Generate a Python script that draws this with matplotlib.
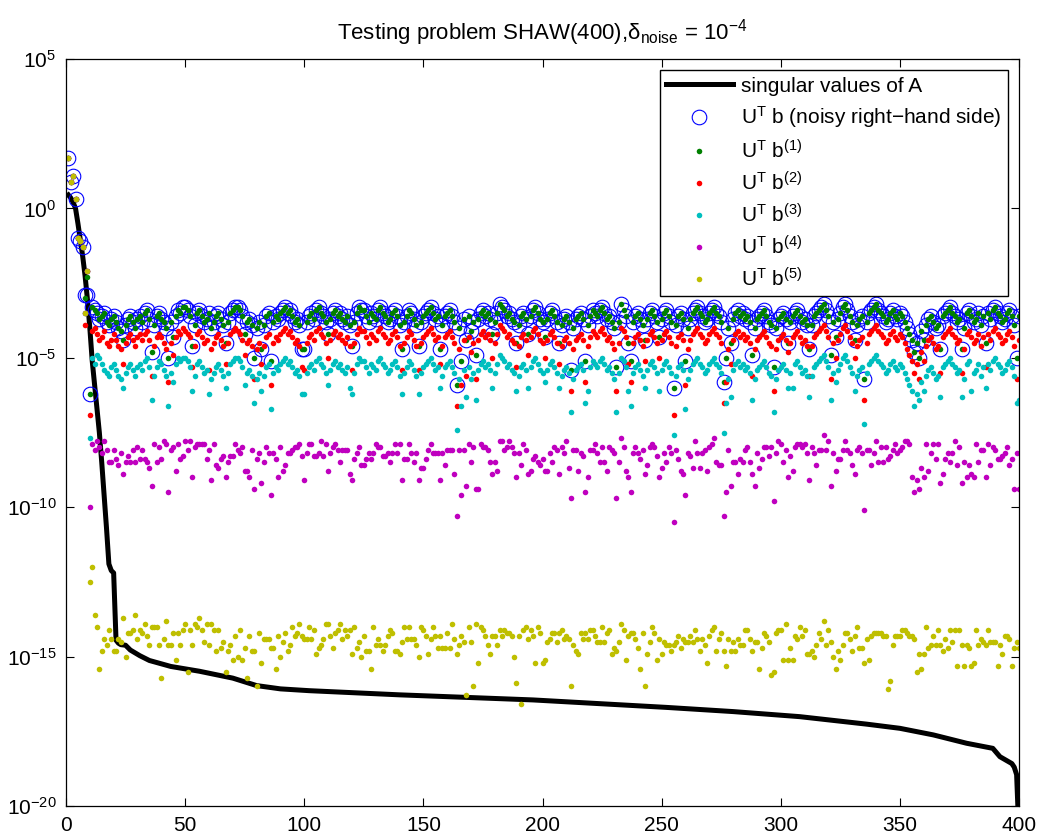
import numpy as np
import matplotlib.pyplot as plt
from matplotlib.ticker import NullLocator

plt.rcParams['font.family'] = ['Liberation Sans', 'DejaVu Sans']
plt.rcParams['mathtext.fontset'] = 'custom'
plt.rcParams['mathtext.rm'] = 'Liberation Sans'
plt.rcParams['mathtext.it'] = 'Liberation Sans:italic'
plt.rcParams['mathtext.bf'] = 'Liberation Sans:bold'
plt.rcParams['mathtext.sf'] = 'Liberation Sans'

# singular values of A: index and log10 value
sv_idx = [1, 2, 3, 4, 5, 6, 7, 8, 9, 10, 11, 12, 13, 14, 15, 16, 17, 18, 19, 20,
          21, 22, 23, 25, 27, 31, 35, 44, 56, 70, 80, 90, 102, 140, 196, 252, 280,
          308, 336, 350, 364, 378, 389, 392, 397, 398, 399, 400]
sv_log = [0.45, 0.35, 0.2, 0.0, -0.5, -1.05, -1.6, -2.25, -3.05, -4.0,
          -5.1, -5.9, -6.7, -7.5, -8.5, -9.6, -10.7, -11.9, -12.12, -12.2,
          -14.45, -14.55, -14.6, -14.62, -14.78, -14.97, -15.13, -15.33, -15.49, -15.72,
          -15.97, -16.08, -16.14, -16.28, -16.45, -16.70, -16.84,
          -17.01, -17.26, -17.4, -17.62, -17.9, -18.07, -18.35, -18.58, -18.7, -18.95, -21.0]

# coefficients U^T b, stored as 10*log10 (i = 1..400)
utb = [17, 9, 11, 3, -10, -11, -13, -29, -29, -62, -33,
       -34, -35, -37, -36, -35, -38, -39, -37, -36, -38, -40, -41, -44, -39, -37, -36, -38, -40, -37, -36,
       -38, -35, -34, -37, -48, -39, -36, -35, -37, -38, -40, -50, -38, -43, -36, -34, -35, -33, -33, -34,
       -36, -46, -39, -35, -34, -36, -38, -37, -35, -40, -38, -36, -35, -37, -39, -45, -38, -35, -34, -33,
       -33, -34, -36, -42, -38, -37, -39, -50, -40, -38, -47, -39, -36, -35, -51, -38, -36, -37, -35, -34,
       -33, -35, -34, -36, -38, -37, -39, -47, -47, -38, -36, -35, -37, -34, -33, -35, -36, -38, -42, -37,
       -35, -34, -36, -35, -37, -38, -36, -39, -46, -38, -35, -33, -34, -34, -36, -38, -35, -36, -37, -34,
       -33, -35, -36, -38, -37, -35, -34, -36, -39, -47, -38, -36, -34, -35, -37, -39, -46, -38, -36, -35,
       -34, -33, -35, -37, -36, -47, -39, -36, -35, -34, -36, -38, -59, -40, -51, -37, -44, -36, -41, -38,
       -49, -37, -35, -34, -36, -35, -37, -42, -38, -35, -32, -33, -34, -36, -35, -37, -38, -45, -39, -36,
       -35, -37, -42, -36, -34, -33, -35, -37, -38, -43, -37, -35, -34, -36, -38, -45, -39, -37, -36, -38,
       -54, -40, -37, -36, -35, -37, -51, -39, -36, -34, -35, -36, -34, -33, -35, -37, -36, -38, -40, -53,
       -38, -32, -34, -36, -45, -51, -38, -36, -35, -37, -39, -44, -37, -35, -34, -36, -38, -43, -37, -35,
       -34, -36, -38, -60, -39, -36, -35, -37, -51, -40, -37, -35, -34, -33, -35, -36, -38, -37, -35, -34,
       -33, -35, -36, -38, -58, -50, -40, -45, -37, -35, -34, -36, -35, -37, -36, -38, -49, -40, -37, -36,
       -35, -34, -36, -38, -39, -53, -40, -37, -36, -35, -37, -45, -38, -36, -35, -34, -36, -38, -37, -39,
       -47, -39, -36, -35, -34, -33, -32, -34, -36, -49, -38, -43, -37, -35, -33, -32, -34, -36, -38, -44,
       -39, -37, -36, -57, -38, -35, -34, -33, -32, -34, -35, -36, -38, -37, -35, -34, -36, -37, -35, -36,
       -38, -40, -42, -44, -48, -45, -50, -41, -44, -39, -37, -36, -38, -40, -39, -47, -36, -35, -34, -33,
       -35, -36, -38, -37, -47, -40, -35, -34, -36, -38, -37, -35, -39, -36, -45, -35, -37, -34, -33, -35,
       -36, -38, -37, -35, -34, -36, -39, -50, -36]

utb1 = utb[:7] + [-30, -23] + utb[9:]

utb2 = [17, 9, 11, 3, -10, -11, -13, -39, -21, -69, -41,
        -40, -42, -44, -43, -41, -45, -46, -44, -42, -44, -46, -47, -52, -45, -43, -42, -44, -46, -43, -42,
        -44, -42, -41, -44, -56, -46, -43, -42, -43, -45, -47, -58, -45, -49, -43, -41, -42, -40, -41, -42,
        -43, -53, -46, -42, -41, -43, -45, -44, -54, -47, -45, -43, -42, -44, -46, -52, -45, -42, -41, -40,
        -41, -42, -44, -49, -45, -44, -46, -57, -47, -45, -52, -46, -43, -42, -59, -45, -43, -44, -42, -41,
        -40, -42, -41, -43, -45, -44, -46, -53, -54, -45, -43, -42, -44, -41, -40, -42, -43, -45, -50, -44,
        -42, -41, -43, -42, -44, -45, -43, -46, -54, -45, -42, -40, -41, -41, -43, -45, -42, -43, -44, -41,
        -40, -42, -43, -45, -44, -42, -41, -43, -46, -54, -45, -43, -41, -42, -44, -46, -54, -45, -43, -42,
        -41, -40, -42, -44, -43, -52, -46, -43, -42, -41, -43, -45, -66, -47, -59, -44, -56, -43, -48, -45,
        -57, -44, -42, -41, -43, -42, -44, -50, -45, -42, -39, -40, -41, -43, -42, -44, -45, -53, -46, -43,
        -42, -44, -49, -43, -41, -40, -42, -44, -45, -50, -44, -42, -41, -43, -45, -52, -46, -44, -43, -45,
        -61, -47, -44, -43, -42, -44, -58, -46, -43, -41, -42, -43, -41, -40, -42, -44, -43, -45, -47, -61,
        -45, -40, -41, -43, -52, -58, -45, -43, -42, -44, -46, -51, -44, -42, -41, -43, -45, -50, -44, -42,
        -41, -43, -45, -69, -46, -43, -42, -44, -59, -47, -44, -42, -41, -40, -42, -43, -45, -44, -42, -41,
        -40, -42, -43, -45, -65, -58, -47, -52, -44, -42, -41, -43, -42, -44, -43, -45, -56, -47, -44, -43,
        -42, -41, -43, -45, -46, -61, -47, -44, -43, -42, -44, -48, -45, -43, -42, -41, -43, -45, -44, -46,
        -56, -46, -43, -42, -41, -40, -39, -41, -43, -57, -45, -50, -44, -42, -40, -39, -41, -43, -45, -50,
        -46, -44, -43, -64, -45, -42, -41, -40, -39, -41, -42, -43, -45, -44, -42, -41, -43, -44, -42, -43,
        -45, -47, -49, -51, -55, -52, -57, -48, -51, -46, -44, -43, -45, -47, -46, -55, -43, -42, -41, -40,
        -42, -43, -45, -44, -55, -47, -42, -41, -43, -45, -44, -42, -46, -43, -53, -42, -44, -41, -40, -42,
        -43, -45, -44, -42, -41, -43, -46, -57, -44]

utb3 = [17, 9, 11, 3, -10, -11, -13, -35, -21, -77, -50,
        -52, -49, -50, -52, -54, -55, -56, -53, -52, -54, -56, -57, -60, -55, -53, -52, -54, -56, -53, -52,
        -54, -51, -50, -53, -64, -56, -53, -51, -52, -54, -56, -66, -55, -58, -52, -50, -51, -50, -50, -51,
        -53, -61, -56, -52, -51, -53, -55, -54, -62, -57, -55, -53, -52, -54, -56, -60, -55, -52, -51, -50,
        -50, -51, -53, -59, -55, -54, -56, -65, -57, -55, -61, -56, -53, -52, -67, -55, -53, -54, -52, -51,
        -50, -52, -51, -53, -55, -54, -56, -62, -62, -55, -53, -52, -54, -51, -50, -52, -53, -55, -59, -54,
        -52, -51, -53, -52, -54, -55, -53, -60, -62, -55, -52, -50, -51, -51, -53, -55, -52, -53, -54, -51,
        -50, -52, -53, -55, -54, -52, -51, -53, -56, -62, -55, -53, -51, -52, -54, -56, -62, -55, -53, -52,
        -51, -50, -52, -54, -53, -60, -56, -53, -52, -51, -53, -55, -74, -57, -66, -54, -63, -53, -57, -55,
        -64, -54, -52, -51, -53, -52, -54, -60, -55, -52, -49, -50, -51, -53, -52, -54, -55, -61, -56, -53,
        -52, -54, -60, -53, -51, -50, -52, -54, -55, -58, -54, -52, -51, -53, -55, -60, -56, -54, -53, -55,
        -68, -57, -54, -53, -52, -54, -65, -61, -53, -51, -52, -53, -51, -50, -52, -54, -53, -55, -57, -68,
        -55, -50, -51, -53, -61, -66, -55, -53, -52, -54, -56, -60, -54, -52, -51, -53, -55, -61, -54, -52,
        -51, -53, -55, -76, -56, -53, -52, -54, -67, -57, -54, -52, -51, -50, -52, -53, -55, -54, -52, -51,
        -50, -52, -53, -55, -75, -65, -57, -63, -54, -52, -51, -53, -52, -54, -53, -55, -64, -57, -54, -53,
        -52, -51, -53, -55, -56, -68, -57, -54, -53, -52, -54, -60, -55, -60, -52, -51, -53, -55, -54, -56,
        -63, -56, -53, -52, -51, -50, -49, -51, -53, -64, -55, -58, -54, -52, -50, -49, -51, -53, -55, -61,
        -56, -54, -53, -72, -55, -52, -51, -50, -49, -51, -52, -53, -55, -54, -52, -51, -53, -54, -52, -53,
        -55, -57, -59, -61, -66, -62, -64, -58, -61, -56, -54, -53, -55, -57, -56, -63, -53, -52, -51, -50,
        -52, -53, -55, -54, -63, -57, -52, -51, -61, -55, -54, -52, -56, -53, -60, -52, -54, -51, -50, -52,
        -53, -55, -54, -52, -51, -53, -56, -65, -64]

utb4 = [17, 9, 11, 3, -10, -11, -13, -35, -21,
        -100, -79, -81, -78, -80, -82, -78, -81, -85, -85, -81, -84, -86, -82, -89, -85, -83, -85, -81, -85,
        -80, -84, -81, -84, -85, -87, -93, -79, -85, -80, -84, -78, -79, -95, -81, -80, -88, -79, -84, -83,
        -78, -81, -78, -90, -80, -79, -79, -79, -79, -84, -81, -91, -79, -86, -87, -84, -83, -90, -85, -83,
        -83, -79, -81, -82, -80, -88, -88, -90, -81, -94, -84, -82, -92, -85, -80, -82, -96, -82, -84, -90,
        -80, -88, -86, -82, -82, -81, -80, -80, -79, -83, -91, -82, -79, -79, -83, -83, -82, -78, -83, -79,
        -88, -82, -80, -79, -81, -85, -81, -81, -81, -89, -91, -84, -82, -80, -86, -86, -84, -82, -84, -82,
        -79, -80, -80, -83, -83, -82, -85, -82, -79, -82, -79, -91, -84, -84, -79, -82, -85, -82, -91, -87,
        -87, -84, -81, -79, -82, -82, -82, -91, -82, -86, -81, -81, -81, -89, -103, -81, -96, -81, -93, -79,
        -85, -80, -94, -94, -79, -80, -80, -81, -85, -89, -85, -88, -78, -78, -81, -80, -78, -80, -82, -90,
        -82, -86, -79, -81, -89, -88, -84, -83, -85, -86, -84, -88, -88, -82, -85, -80, -81, -89, -80, -82,
        -78, -87, -97, -81, -81, -88, -82, -83, -95, -90, -81, -81, -79, -82, -85, -80, -85, -88, -80, -81,
        -82, -97, -85, -77, -80, -88, -90, -95, -82, -80, -82, -84, -81, -89, -86, -80, -79, -80, -83, -90,
        -87, -82, -85, -80, -82, -105, -81, -84, -88, -89, -96, -82, -83, -87, -78, -82, -87, -82, -81, -88,
        -80, -79, -77, -85, -86, -86, -103, -95, -81, -93, -85, -85, -89, -84, -85, -81, -80, -85, -89, -93,
        -82, -87, -84, -80, -80, -83, -80, -98, -82, -78, -79, -85, -81, -90, -83, -88, -80, -79, -79, -80,
        -79, -82, -91, -80, -82, -86, -81, -81, -76, -81, -78, -93, -82, -88, -84, -84, -81, -78, -81, -82,
        -86, -89, -81, -80, -82, -101, -81, -81, -86, -82, -78, -85, -80, -85, -80, -84, -83, -81, -79, -82,
        -81, -80, -78, -78, -79, -90, -95, -91, -94, -87, -90, -79, -88, -82, -79, -84, -79, -92, -89, -84,
        -82, -85, -82, -78, -86, -80, -92, -85, -90, -86, -89, -90, -79, -85, -81, -81, -90, -79, -86, -80,
        -81, -84, -84, -83, -82, -80, -86, -84, -94, -82, -94]

utb5 = [17, 9, 11, 3, -10, -11, -13, -35, -21,
        -125, -120, -136, -140, -154, -148, -144, -146, -141, -144, -148, -148, -144, -145, -137, -150, -142, -142, -141, -136,
        -144, -141, -142, -139, -143, -146, -140, -140, -140, -146, -157, -144, -138, -146, -146, -142, -151, -142, -146, -141,
        -139, -155, -141, -146, -139, -140, -137, -141, -145, -139, -146, -139, -141, -148, -141, -147, -145, -155, -148, -146,
        -151, -143, -150, -141, -151, -147, -157, -143, -148, -148, -160, -142, -152, -144, -144, -144, -147, -147, -154, -143,
        -150, -145, -142, -148, -146, -140, -143, -142, -139, -143, -144, -144, -140, -144, -141, -149, -147, -146, -144, -139,
        -139, -143, -147, -142, -141, -139, -144, -141, -143, -141, -149, -140, -147, -145, -150, -143, -148, -148, -154, -140,
        -146, -144, -146, -148, -146, -143, -141, -142, -148, -148, -149, -145, -140, -144, -140, -144, -144, -146, -150, -140,
        -141, -143, -149, -144, -140, -143, -147, -143, -147, -147, -142, -147, -139, -144, -149, -146, -143, -145, -163, -140,
        -145, -160, -139, -152, -140, -141, -143, -146, -149, -143, -143, -146, -141, -143, -141, -142, -142, -143, -150, -159,
        -143, -166, -141, -140, -144, -141, -143, -152, -140, -142, -152, -151, -145, -144, -142, -142, -145, -142, -141, -144,
        -143, -144, -160, -146, -148, -149, -142, -144, -142, -144, -141, -141, -143, -145, -145, -140, -145, -142, -141, -149,
        -147, -148, -145, -139, -141, -151, -143, -142, -142, -144, -147, -154, -142, -160, -149, -145, -140, -142, -151, -144,
        -149, -145, -146, -146, -148, -146, -145, -143, -147, -144, -145, -145, -143, -145, -141, -144, -148, -144, -146, -152,
        -143, -141, -140, -148, -144, -142, -148, -153, -144, -148, -145, -148, -144, -146, -146, -141, -141, -144, -148, -145,
        -145, -154, -147, -142, -143, -145, -156, -155, -142, -141, -141, -151, -139, -151, -147, -151, -143, -144, -140, -143,
        -141, -149, -149, -148, -150, -146, -142, -144, -138, -146, -141, -145, -150, -154, -148, -151, -146, -142, -142, -144,
        -148, -143, -140, -147, -147, -152, -144, -151, -143, -142, -142, -142, -142, -143, -143, -161, -158, -146, -143, -143,
        -143, -141, -141, -142, -143, -143, -144, -155, -149, -154, -149, -140, -147, -146, -143, -146, -141, -146, -148, -144,
        -147, -141, -145, -141, -153, -141, -146, -153, -146, -147, -153, -152, -141, -146, -144, -145, -146, -141, -145, -145,
        -145, -153, -146, -149, -143, -143, -144, -153, -147, -145, -147]

n = np.arange(1, 401)


def coef(v):
    return 10.0 ** (np.array(v) / 10.0)


fig = plt.figure(figsize=(10.39, 8.39), dpi=100)
ax = fig.add_axes([66 / 1039, 33 / 839, 953 / 1039, 747 / 839])

ax.semilogy(sv_idx, 10.0 ** np.array(sv_log), '-', color='k', lw=3.6,
            label='singular values of A')
ax.semilogy(n, coef(utb), 'o', mfc='none', mec=(0, 0, 1), ms=10.5, mew=0.8,
            label='U$^{\\mathrm{T}}$ b (noisy right\u2212hand side)')

dots = [(utb1, (0, 0.5, 0)), (utb2, (1, 0, 0)), (utb3, (0, 0.75, 0.75)),
        (utb4, (0.75, 0, 0.75)), (utb5, (0.75, 0.75, 0))]
for k, (vals, col) in enumerate(dots, start=1):
    ax.semilogy(n, coef(vals), 'o', color=col, ms=4.0, mew=0,
                label='U$^{\\mathrm{T}}$ b$^{(%d)}$' % k)

ax.set_xlim(0, 400)
ax.set_ylim(1e-20, 1e5)
ax.set_xticks(np.arange(0, 401, 50))
ax.set_yticks([1e-20, 1e-15, 1e-10, 1e-5, 1e0, 1e5])
ax.yaxis.set_minor_locator(NullLocator())
ax.tick_params(direction='in', top=True, right=True, length=6, width=0.8,
               labelsize=15, pad=7)
for sp in ax.spines.values():
    sp.set_linewidth(0.9)

ax.set_title('Testing problem SHAW(400),$\\mathrm{\u03b4_{noise}}$ = 10$^{\u22124}$',
             fontsize=16, pad=14)

ax.legend(loc='upper right', fontsize=15, fancybox=False, edgecolor='k',
          framealpha=1, handlelength=3.2, handletextpad=0.4, borderpad=0.3,
          labelspacing=0.42, borderaxespad=0.55, numpoints=1)

fig.savefig('out.png', dpi=100)
